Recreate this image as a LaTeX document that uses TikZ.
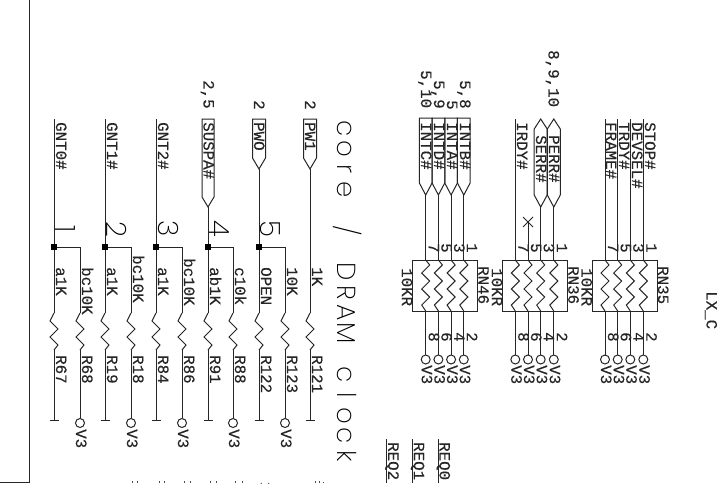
\documentclass[tikz,border=0pt]{standalone}
\usepackage{fontspec}
\newfontfamily\schfont[FakeBold=0.25]{Liberation Mono}
\newfontfamily\schthin{Poppins ExtraLight}
\newcommand{\fx}[1]{\makebox[20.5pt][c]{#1}}
\tikzset{
  x=1pt,y=-1pt,
  wire/.style={line width=1pt,draw=black!85,line join=miter},
  lbl/.style={rotate=-90,anchor=base west,inner sep=0pt,font=\schfont\fontsize{15.8}{16}\selectfont,text=black!85},
  biglbl/.style={rotate=-90,anchor=base west,inner sep=0pt,font=\schthin\fontsize{26}{28}\selectfont,text=black},
  digit/.style={rotate=-90,anchor=base,inner sep=0pt,font=\schthin\fontsize{28}{30}\selectfont,text=black},
  dot/.style={fill=black,draw=none,minimum size=6pt,inner sep=0pt,rectangle},
  ring/.style={circle,draw=black!85,line width=1pt,minimum size=9pt,inner sep=0pt,fill=white},
}
% resistor zigzag: x, top y
\newcommand{\Rzig}[2]{ (#1,#2) -- ++(-4,8) -- ++(8,8) -- ++(-8,8) -- ++(8,8) -- ++(-4,5) }
% network zigzag, from box top to bottom
\newcommand{\Nzig}[1]{ (#1,260) -- (#1+4,265) -- (#1-4,273) -- (#1+4,281) -- (#1-4,289) -- (#1+4,297) -- (#1-4,305) -- (#1,311) }
% network element: left edge x, names, four wires
\newcommand{\RNet}[7]{%
  \node[draw=black!85,line width=1pt,minimum width=64.7pt,minimum height=51.3pt,inner sep=0pt,anchor=north west] (#7) at (#1,260) {};
  \node[lbl] (#7a) at (#1-10.5,268) {10KR};
  \node[lbl] (#7b) at (#1+66,266) {#2};
  \foreach \wx/\pa/\pb [count=\i] in {#3/7/8,#4/5/6,#5/3/4,#6/1/2}{
    \draw[wire] \Nzig{\wx};
    \coordinate (#7t\i) at (\wx,311);
    \node[ring] (#7r\i) at (\wx,359.5) {};
    \draw[wire] (#7t\i) -- (#7r\i);
    \node[lbl] (#7v\i) at (\wx-4,365) {V3};
    \node[lbl] (#7p\i) at (\wx+3,243) {\pa};
    \node[lbl] (#7q\i) at (\wx+3,332) {\pb};
  }
}
\begin{document}
\begin{tikzpicture}
\useasboundingbox (0,0) rectangle (717,483);
\fill[white] (0,0) rectangle (717,483);
% frame
\coordinate (fa) at (29,0); \coordinate (fb) at (29,482.5); \coordinate (fc) at (0,482.5);
\draw[wire] (fa) -- (fb) -- (fc);

% big labels
\node[biglbl] (title) at (337,118) {\fx c\fx o\fx r\fx e\fx{ }\fx/\fx{ }\fx D\fx R\fx A\fx M\fx{ }\fx c\fx l\fx o\fx c\fx k};
\foreach \dx/\dn/\dd in {55/d1/1,106/d2/2,158/d3/3,209/d4/4,260/d5/5}
  \node[digit] (\dn) at (\dx,229) {\dd};

% main resistor columns
\foreach \x/\top/\val/\ref in {54/119/a1K/R67,105/119/a1K/R19,156/119/a1K/R84,208/207/ab1K/R91,259/169/OPEN/R122,310/169/1K/R121}{
  \coordinate (m\x) at (\x,\top);
  \coordinate (e\x) at (\x,420);
  \draw[wire] (m\x) -- (\x,313);
  \draw[wire] \Rzig{\x}{313};
  \draw[wire] (\x,350) -- (e\x);
  \draw[wire] (\x-4.5,420) -- (\x+4.5,420);
  \node[lbl] (val\x) at (\x+2,267) {\val};
  \node[lbl] (ref\x) at (\x+2,355) {\ref};
}
% branch resistor columns
\foreach \xm/\x/\ty/\val/\ref in {54/80/267/bc10K/R68,105/131/255/bc10K/R18,156/182/258/bc10K/R86,208/233/267/c10k/R88,259/285/267/10K/R123}{
  \node[dot] (j\xm) at (\xm,247) {};
  \node[ring] (v\x) at (\x,423) {};
  \draw[wire] (j\xm) -- (\x,247) -- (\x,313);
  \draw[wire] \Rzig{\x}{313};
  \draw[wire] (\x,350) -- (v\x);
  \node[lbl] (vt\x) at (\x-4,429) {V3};
  \node[lbl] (val\x) at (\x+2,\ty) {\val};
  \node[lbl] (ref\x) at (\x+2,355) {\ref};
}
% bus signal names
\node[lbl] (n0) at (56,122) {GNT0\#};
\node[lbl] (n1) at (107,122) {GNT1\#};
\node[lbl] (n2) at (158,122) {GNT2\#};
% off-page connectors
\draw[wire] (202,119) -- (214,119) -- (214,197) -- (208,207) -- (202,197) -- cycle;
\draw[wire] (252.5,119) -- (265.5,119) -- (265.5,158) -- (259,169) -- (252.5,158) -- cycle;
\draw[wire] (303.5,119) -- (316.5,119) -- (316.5,158) -- (310,169) -- (303.5,158) -- cycle;
\node[lbl] (n3) at (203.5,122) {SUSPA\#};
\node[lbl] (n4) at (254,122) {PWO};
\node[lbl] (n5) at (305,122) {PW1};
\node[lbl] (p3) at (203.5,80) {2,5};
\node[lbl] (p4) at (254,100) {2};
\node[lbl] (p5) at (305,100) {2};

% INT group
\foreach \x in {425.7,438.4,451.1,463.8}{
  \draw[wire] (\x-6.35,118) -- (\x+6.35,118) -- (\x+6.35,183) -- (\x,195) -- (\x-6.35,183) -- cycle;
  \draw[wire] (\x,195) -- (\x,260);
}
\node[lbl] (i1) at (421,122) {INTC\#};
\node[lbl] (i2) at (434,122) {INTD\#};
\node[lbl] (i3) at (447,122) {INTA\#};
\node[lbl] (i4) at (460,122) {INTB\#};
\node[lbl] (ip1) at (421,70) {5,10};
\node[lbl] (ip2) at (434,80) {5,9};
\node[lbl] (ip3) at (447,100) {5};
\node[lbl] (ip4) at (460,80) {5,8};
\RNet{412.3}{RN46}{425.7}{438.4}{451.1}{463.8}{rna}

% IRDY, SERR, PERR group
\draw[wire] (515.3,119) -- (515.3,260);
\node[lbl] (k1) at (517,122) {IRDY\#};
\foreach \x in {540.7,553.8}{
  \draw[wire] (\x,119) -- (\x+6.5,129) -- (\x+6.5,195) -- (\x,207) -- (\x-6.5,195) -- (\x-6.5,129) -- cycle;
  \draw[wire] (\x,207) -- (\x,260);
}
\node[lbl] (k2) at (536,135) {SERR\#};
\node[lbl] (k3) at (549,135) {PERR\#};
\node[lbl] (k4) at (548.5,50) {8,9,10};
\coordinate (xc) at (528,222);
\draw[wire] (xc) -- (528,260);
\draw[wire] (523,217) -- (533,227) (533,217) -- (523,227);
\RNet{502.3}{RN36}{515.3}{528}{540.7}{553.8}{rnb}

% FRAME group
\foreach \x/\t/\b in {605/FRAME\#/606,617.7/TRDY\#/619,630.3/DEVSEL\#/632,643.3/STOP\#/645}{
  \draw[wire] (\x,119) -- (\x,260);
  \node[lbl] at (\b,122) {\t};
}
\RNet{592}{RN35}{605}{617.7}{630.3}{643.3}{rnc}

% REQ group, cut by the page edge
\foreach \x/\t in {386.7/REQ2,412.3/REQ1,438/REQ0}{
  \draw[wire] (\x,439) -- (\x,483);
  \node[lbl] at (\x+1.5,442) {\t};
}
% sheet name, at the page edge
\node[lbl,text height=9pt,text depth=0pt] (sheet) at (706.5,291) {LX\_C};
% tops of cut-off text at the bottom edge
\foreach \x in {132,137,159,164,184,190,210,216,235,242}
  \draw[line width=1pt,black!70] (\x,481) -- (\x,483);
\draw[line width=1pt,black!70] (261,483) arc[start angle=180,end angle=0,radius=4];
\draw[line width=1pt,black!70] (315,481) -- (315,483) (319,481) -- (319,483) (323,482) -- (323,483);
\end{tikzpicture}
\end{document}
